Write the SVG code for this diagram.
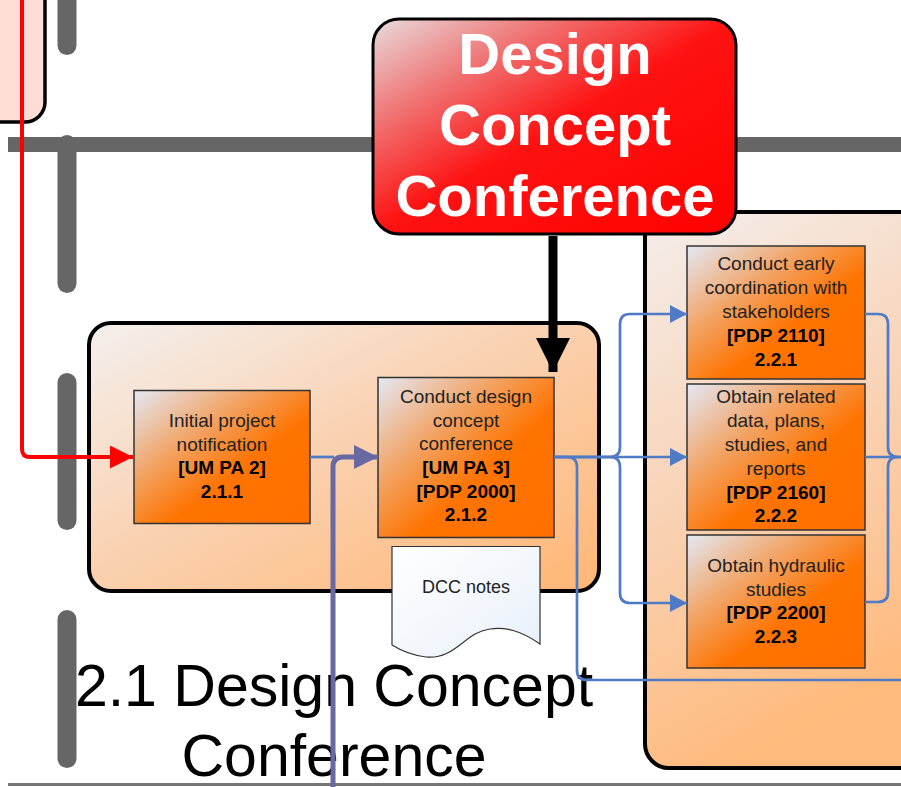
<svg xmlns="http://www.w3.org/2000/svg" width="901" height="787" viewBox="0 0 901 787">
  <defs>
    <style>
      .lane { stroke: #666666; stroke-width: 19; stroke-linecap: round; fill: none; }
      .proc { stroke: #333333; stroke-width: 1.5; fill: url(#procFill); }
      .t { font-family: "Liberation Sans", Arial, sans-serif; font-size: 19px; fill: #222222; text-anchor: middle; }
      .b { font-weight: bold; fill: #000000; }
      .blue { stroke: #4F7BC6; stroke-width: 2.7; fill: none; }
      .title { font-family: "Liberation Sans", Arial, sans-serif; font-size: 59px; fill: #000000; text-anchor: middle; }
      .milestone { font-family: "Liberation Sans", Arial, sans-serif; font-size: 58px; font-weight: bold; fill: #FFFFFF; text-anchor: middle; }
    </style>
    <linearGradient id="procFill" x1="0" y1="0" x2="1" y2="1">
      <stop offset="0" stop-color="#E3E8F5"/>
      <stop offset="0.33" stop-color="#F2A466"/>
      <stop offset="0.6" stop-color="#FF7300"/>
      <stop offset="1" stop-color="#FF7000"/>
    </linearGradient>
    <linearGradient id="groupFill" x1="0" y1="0" x2="1" y2="1">
      <stop offset="0" stop-color="#F4F0EE"/>
      <stop offset="0.45" stop-color="#FAD2B2"/>
      <stop offset="1" stop-color="#FFB674"/>
    </linearGradient>
    <linearGradient id="groupFillTall" x1="0" y1="0" x2="0.3" y2="1">
      <stop offset="0" stop-color="#F4EEEC"/>
      <stop offset="0.5" stop-color="#F9D3B6"/>
      <stop offset="1" stop-color="#FFBA7C"/>
    </linearGradient>
    <linearGradient id="redFill" x1="0" y1="0" x2="1" y2="1">
      <stop offset="0" stop-color="#E8DCDE"/>
      <stop offset="0.25" stop-color="#F07272"/>
      <stop offset="0.5" stop-color="#FF1212"/>
      <stop offset="1" stop-color="#FF0000"/>
    </linearGradient>
    <linearGradient id="docFill" x1="0" y1="0" x2="1" y2="1">
      <stop offset="0" stop-color="#FFFFFF"/>
      <stop offset="1" stop-color="#E8F0FA"/>
    </linearGradient>
    <marker id="arrBlue" markerUnits="userSpaceOnUse" markerWidth="18" markerHeight="18" refX="17" refY="9" orient="auto">
      <path d="M0,0 L17,9 L0,18 Z" fill="#4F7BC6"/>
    </marker>
    <marker id="arrPurple" markerUnits="userSpaceOnUse" markerWidth="24" markerHeight="24" refX="24" refY="12" orient="auto">
      <path d="M0,0 L24,12 L0,24 Z" fill="#6868A2"/>
    </marker>
    <marker id="arrRed" markerUnits="userSpaceOnUse" markerWidth="24" markerHeight="24" refX="23" refY="11.5" orient="auto">
      <path d="M0,0 L23,11.5 L0,23 Z" fill="#FF0000"/>
    </marker>
    <marker id="arrBlack" markerUnits="userSpaceOnUse" markerWidth="36" markerHeight="36" refX="34" refY="17" orient="auto">
      <path d="M0,0 L34,17 L0,34 Z" fill="#000000"/>
    </marker>
  </defs>

  <rect width="901" height="787" fill="#FFFFFF"/>

  <!-- swimlane separators -->
  <g id="lanes">
    <line x1="8" y1="144.5" x2="901" y2="144.5" stroke="#666666" stroke-width="15"/>
    <line class="lane" x1="67" y1="-12" x2="67" y2="45.5"/>
    <line class="lane" x1="67" y1="144.5" x2="67" y2="283.5"/>
    <line class="lane" x1="67" y1="382.5" x2="67" y2="520.5"/>
    <line class="lane" x1="67" y1="619.5" x2="67" y2="758.5"/>
    <line x1="8" y1="784.5" x2="901" y2="784.5" stroke="#777777" stroke-width="3"/>
  </g>

  <!-- previous phase (partly visible) -->
  <g id="prev-phase">
    <rect x="-40" y="-40" width="85" height="162" rx="20" fill="#FFDCD4" stroke="#000000" stroke-width="3.5"/>
  </g>

  <!-- group 2.1 -->
  <g id="group-2-1">
    <rect x="89" y="323" width="510" height="268" rx="22" fill="url(#groupFill)" stroke="#000000" stroke-width="4"/>
  </g>

  <!-- group 2.2 -->
  <g id="group-2-2">
    <rect x="645" y="212" width="300" height="556" rx="24" fill="url(#groupFillTall)" stroke="#000000" stroke-width="4"/>
  </g>

  <g id="title-2-1">
    <text class="title" x="334" y="706">2.1 Design Concept</text>
    <text class="title" x="334" y="776">Conference</text>
  </g>

  <g id="task-2-1-1">
    <rect class="proc" x="134" y="390.5" width="176" height="133"/>
    <text class="t" x="222" y="427">Initial project</text>
    <text class="t" x="222" y="450.5">notification</text>
    <text class="t b" x="222" y="474">[UM PA 2]</text>
    <text class="t b" x="222" y="497.5">2.1.1</text>
  </g>

  <g id="task-2-1-2">
    <rect class="proc" x="378" y="377.5" width="176" height="160"/>
    <text class="t" x="466" y="403">Conduct design</text>
    <text class="t" x="466" y="426.5">concept</text>
    <text class="t" x="466" y="450">conference</text>
    <text class="t b" x="466" y="474">[UM PA 3]</text>
    <text class="t b" x="466" y="497.5">[PDP 2000]</text>
    <text class="t b" x="466" y="521">2.1.2</text>
  </g>

  <g id="doc-dcc-notes">
    <path d="M392,546.5 H540 V644 C520,630 505,627 490,629 C465,632 455,660 426,657 C410,655 400,650 392,645 Z" fill="url(#docFill)" stroke="#333333" stroke-width="1.2"/>
    <text class="t" x="466" y="593" style="font-size:18px">DCC notes</text>
  </g>

  <g id="task-2-2-1">
    <rect class="proc" x="687" y="246" width="178" height="133"/>
    <text class="t" x="776" y="270">Conduct early</text>
    <text class="t" x="776" y="294">coordination with</text>
    <text class="t" x="776" y="318">stakeholders</text>
    <text class="t b" x="776" y="342">[PDP 2110]</text>
    <text class="t b" x="776" y="366">2.2.1</text>
  </g>

  <g id="task-2-2-2">
    <rect class="proc" x="687" y="384" width="178" height="146"/>
    <text class="t" x="776" y="403">Obtain related</text>
    <text class="t" x="776" y="427">data, plans,</text>
    <text class="t" x="776" y="451">studies, and</text>
    <text class="t" x="776" y="475">reports</text>
    <text class="t b" x="776" y="498.5">[PDP 2160]</text>
    <text class="t b" x="776" y="522">2.2.2</text>
  </g>

  <g id="task-2-2-3">
    <rect class="proc" x="687" y="535" width="178" height="133"/>
    <text class="t" x="776" y="572">Obtain hydraulic</text>
    <text class="t" x="776" y="595.5">studies</text>
    <text class="t b" x="776" y="619">[PDP 2200]</text>
    <text class="t b" x="776" y="643">2.2.3</text>
  </g>

  <!-- connectors -->
  <g id="connectors">
    <path d="M22,-5 V449 Q22,457 30,457 H133" stroke="#FF0000" stroke-width="4" fill="none" marker-end="url(#arrRed)"/>
    <path class="blue" d="M310,457 H334"/>
    <path d="M333,790 V467 Q333,457 343,457 H378" stroke="#6868A2" stroke-width="5" fill="none" marker-end="url(#arrPurple)"/>
    <path d="M553,236 V372" stroke="#000000" stroke-width="9" fill="none" marker-end="url(#arrBlack)"/>
    <path class="blue" d="M554,457 H687" marker-end="url(#arrBlue)"/>
    <path class="blue" d="M554,457 H610 Q620,457 620,447 V324 Q620,314 630,314 H687" marker-end="url(#arrBlue)"/>
    <path class="blue" d="M554,457 H610 Q620,457 620,467 V593 Q620,603 630,603 H687" marker-end="url(#arrBlue)"/>
    <path class="blue" d="M554,457 H567 Q577,457 577,467 V670 Q577,680 587,680 H905"/>
    <path class="blue" d="M865,314 H878 Q888,314 888,324 V447 Q888,457 898,457 H905"/>
    <path class="blue" d="M865,457 H905"/>
    <path class="blue" d="M865,602 H878 Q888,602 888,592 V467 Q888,457 898,457"/>
  </g>

  <!-- milestone -->
  <g id="milestone-dcc">
    <rect x="373" y="19" width="363" height="215" rx="26" fill="url(#redFill)" stroke="#000000" stroke-width="3"/>
    <text class="milestone" x="555" y="74">Design</text>
    <text class="milestone" x="555" y="145">Concept</text>
    <text class="milestone" x="555" y="216">Conference</text>
  </g>
</svg>
